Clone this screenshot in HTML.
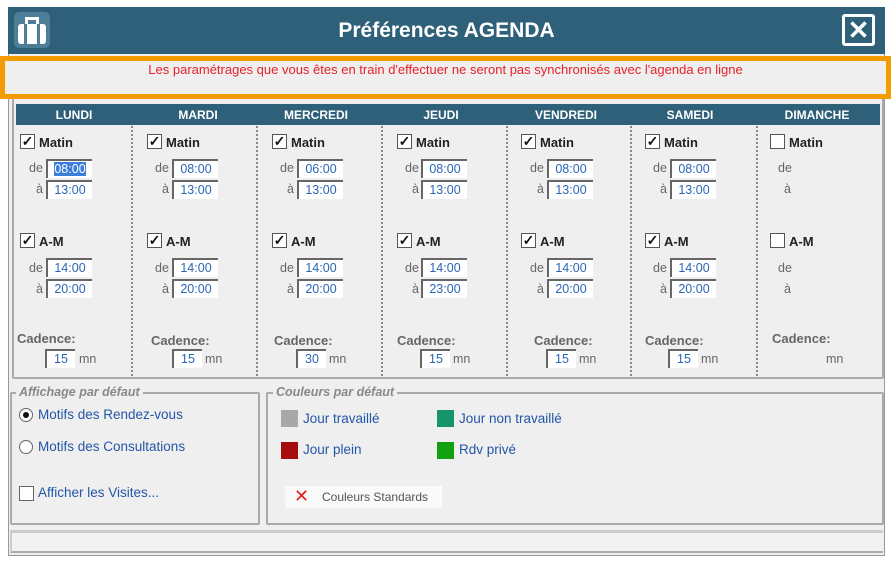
<!DOCTYPE html>
<html><head><meta charset="utf-8"><style>
*{box-sizing:border-box;margin:0;padding:0}
body{width:892px;height:561px;background:#fff;position:relative;overflow:hidden;font-family:"Liberation Sans",Arial,sans-serif;font-size:12px;color:#555}
.a{position:absolute}
.dlg{left:8px;top:7px;width:877px;height:549px;background:#efefef;border:1px solid #999}
.title{left:8px;top:7px;width:877px;height:47px;background:#2f6079}
.title span{position:absolute;left:0;right:0;top:12px;text-align:center;color:#fff;font-weight:bold;font-size:21px}
.box{border:2px solid #aaa;border-radius:2px}
.hdr{left:16px;top:104px;width:864px;height:21px;background:#2f6079}
.hdr span{position:absolute;top:4px;color:#fff;font-weight:bold;font-size:12px;width:116px;text-align:center}
.sep{top:126px;height:250px;border-left:2px dotted #888}
.cb{width:15px;height:15px;border:1px solid #555;background:#fff;font-size:14px;line-height:13px;text-align:center;color:#111;font-weight:bold}
.lb{font-weight:bold;color:#222;font-size:13px}
.in{width:46px;height:19px;background:#fff;border-top:2px solid #666;border-left:2px solid #666;color:#2b66b5;font-size:12.5px;text-align:center;line-height:17px}
.sm{color:#666;font-size:12.5px}
.cad{color:#666;font-weight:bold;font-size:13px}
.ci{width:30px}
.blue{color:#2456a8;font-size:13.5px}
.sw{width:17px;height:17px}
</style></head><body>
<div class="a dlg"></div>
<div class="a title"><span>Préférences AGENDA</span></div>
<div class="a" style="left:14px;top:12px;width:36px;height:36px;background:#4d7d97;border-radius:5px"></div>
<div class="a" style="left:18px;top:24px;width:28px;height:20px;background:#fff;border-radius:3px"></div>
<div class="a" style="left:25px;top:17px;width:14px;height:9px;border:3px solid #fff;border-bottom:none"></div>
<div class="a" style="left:24px;top:24px;width:3px;height:20px;background:#4d7d97"></div>
<div class="a" style="left:37px;top:24px;width:3px;height:20px;background:#4d7d97"></div>
<div class="a" style="left:842px;top:14px;width:33px;height:32px;background:#fff;border-radius:3px"></div>
<div class="a" style="left:845px;top:17px;width:27px;height:26px;background:#2f6079;color:#fff;font-size:26px;line-height:26px;text-align:center;font-weight:bold">✕</div>

<div class="a box" style="left:12px;top:92px;width:872px;height:287px"></div>
<div class="a" style="left:0;top:56px;width:891px;height:43px;border:5px solid #f39c00;background:#efefef"></div>
<div class="a" style="left:0;top:62px;width:891px;text-align:center;color:#e8202a;font-size:13px">Les paramétrages que vous êtes en train d'effectuer ne seront pas synchronisés avec l'agenda en ligne</div>

<div class="a hdr">
<span style="left:0">LUNDI</span><span style="left:124px">MARDI</span><span style="left:242px">MERCREDI</span><span style="left:367px">JEUDI</span><span style="left:492px">VENDREDI</span><span style="left:616px">SAMEDI</span><span style="left:743px">DIMANCHE</span></div>
<div class="a sep" style="left:131px"></div><div class="a sep" style="left:256px"></div><div class="a sep" style="left:381px"></div><div class="a sep" style="left:506px"></div><div class="a sep" style="left:630px"></div><div class="a sep" style="left:756px"></div>

<!-- LUNDI -->
<div class="a cb" style="left:20px;top:134px">✓</div><div class="a lb" style="left:39px;top:135px">Matin</div>
<div class="a sm" style="left:29px;top:161px">de</div><div class="a in" style="left:46px;top:159px"><span style="background:#3b7fd9;color:#fff">08:00</span></div>
<div class="a sm" style="left:36px;top:182px">à</div><div class="a in" style="left:46px;top:180px">13:00</div>
<div class="a cb" style="left:20px;top:233px">✓</div><div class="a lb" style="left:39px;top:234px">A-M</div>
<div class="a sm" style="left:29px;top:261px">de</div><div class="a in" style="left:46px;top:258px">14:00</div>
<div class="a sm" style="left:36px;top:282px">à</div><div class="a in" style="left:46px;top:279px">20:00</div>
<div class="a cad" style="left:17px;top:331px">Cadence:</div><div class="a in ci" style="left:45px;top:349px">15</div><div class="a sm" style="left:79px;top:352px">mn</div>
<!-- MARDI -->
<div class="a cb" style="left:147px;top:134px">✓</div><div class="a lb" style="left:166px;top:135px">Matin</div>
<div class="a sm" style="left:155px;top:161px">de</div><div class="a in" style="left:172px;top:159px">08:00</div>
<div class="a sm" style="left:162px;top:182px">à</div><div class="a in" style="left:172px;top:180px">13:00</div>
<div class="a cb" style="left:147px;top:233px">✓</div><div class="a lb" style="left:166px;top:234px">A-M</div>
<div class="a sm" style="left:155px;top:261px">de</div><div class="a in" style="left:172px;top:258px">14:00</div>
<div class="a sm" style="left:162px;top:282px">à</div><div class="a in" style="left:172px;top:279px">20:00</div>
<div class="a cad" style="left:151px;top:333px">Cadence:</div><div class="a in ci" style="left:172px;top:349px">15</div><div class="a sm" style="left:205px;top:352px">mn</div>
<!-- MERCREDI -->
<div class="a cb" style="left:272px;top:134px">✓</div><div class="a lb" style="left:291px;top:135px">Matin</div>
<div class="a sm" style="left:280px;top:161px">de</div><div class="a in" style="left:297px;top:159px">06:00</div>
<div class="a sm" style="left:287px;top:182px">à</div><div class="a in" style="left:297px;top:180px">13:00</div>
<div class="a cb" style="left:272px;top:233px">✓</div><div class="a lb" style="left:291px;top:234px">A-M</div>
<div class="a sm" style="left:280px;top:261px">de</div><div class="a in" style="left:297px;top:258px">14:00</div>
<div class="a sm" style="left:287px;top:282px">à</div><div class="a in" style="left:297px;top:279px">20:00</div>
<div class="a cad" style="left:274px;top:333px">Cadence:</div><div class="a in ci" style="left:296px;top:349px">30</div><div class="a sm" style="left:329px;top:352px">mn</div>
<!-- JEUDI -->
<div class="a cb" style="left:397px;top:134px">✓</div><div class="a lb" style="left:416px;top:135px">Matin</div>
<div class="a sm" style="left:405px;top:161px">de</div><div class="a in" style="left:421px;top:159px">08:00</div>
<div class="a sm" style="left:412px;top:182px">à</div><div class="a in" style="left:421px;top:180px">13:00</div>
<div class="a cb" style="left:397px;top:233px">✓</div><div class="a lb" style="left:416px;top:234px">A-M</div>
<div class="a sm" style="left:405px;top:261px">de</div><div class="a in" style="left:421px;top:258px">14:00</div>
<div class="a sm" style="left:412px;top:282px">à</div><div class="a in" style="left:421px;top:279px">23:00</div>
<div class="a cad" style="left:397px;top:333px">Cadence:</div><div class="a in ci" style="left:420px;top:349px">15</div><div class="a sm" style="left:453px;top:352px">mn</div>
<!-- VENDREDI -->
<div class="a cb" style="left:521px;top:134px">✓</div><div class="a lb" style="left:540px;top:135px">Matin</div>
<div class="a sm" style="left:530px;top:161px">de</div><div class="a in" style="left:547px;top:159px">08:00</div>
<div class="a sm" style="left:537px;top:182px">à</div><div class="a in" style="left:547px;top:180px">13:00</div>
<div class="a cb" style="left:521px;top:233px">✓</div><div class="a lb" style="left:540px;top:234px">A-M</div>
<div class="a sm" style="left:530px;top:261px">de</div><div class="a in" style="left:547px;top:258px">14:00</div>
<div class="a sm" style="left:537px;top:282px">à</div><div class="a in" style="left:547px;top:279px">20:00</div>
<div class="a cad" style="left:534px;top:333px">Cadence:</div><div class="a in ci" style="left:546px;top:349px">15</div><div class="a sm" style="left:579px;top:352px">mn</div>
<!-- SAMEDI -->
<div class="a cb" style="left:645px;top:134px">✓</div><div class="a lb" style="left:664px;top:135px">Matin</div>
<div class="a sm" style="left:653px;top:161px">de</div><div class="a in" style="left:670px;top:159px">08:00</div>
<div class="a sm" style="left:660px;top:182px">à</div><div class="a in" style="left:670px;top:180px">13:00</div>
<div class="a cb" style="left:645px;top:233px">✓</div><div class="a lb" style="left:664px;top:234px">A-M</div>
<div class="a sm" style="left:653px;top:261px">de</div><div class="a in" style="left:670px;top:258px">14:00</div>
<div class="a sm" style="left:660px;top:282px">à</div><div class="a in" style="left:670px;top:279px">20:00</div>
<div class="a cad" style="left:645px;top:333px">Cadence:</div><div class="a in ci" style="left:668px;top:349px">15</div><div class="a sm" style="left:701px;top:352px">mn</div>
<!-- DIMANCHE -->
<div class="a cb" style="left:770px;top:134px"></div><div class="a lb" style="left:789px;top:135px">Matin</div>
<div class="a sm" style="left:778px;top:161px">de</div>
<div class="a sm" style="left:784px;top:182px">à</div>
<div class="a cb" style="left:770px;top:233px"></div><div class="a lb" style="left:789px;top:234px">A-M</div>
<div class="a sm" style="left:778px;top:261px">de</div>
<div class="a sm" style="left:784px;top:282px">à</div>
<div class="a cad" style="left:772px;top:331px">Cadence:</div><div class="a sm" style="left:826px;top:352px">mn</div>

<!-- bottom -->
<div class="a box" style="left:10px;top:392px;width:250px;height:133px"></div>
<div class="a" style="left:16px;top:385px;padding:0 3px;background:#efefef;color:#888;font-style:italic;font-weight:bold;font-size:12.5px">Affichage par défaut</div>
<div class="a" style="left:19px;top:408px;width:14px;height:14px;border-radius:50%;border:1px solid #666;background:#fff"></div>
<div class="a" style="left:23px;top:412px;width:6px;height:6px;border-radius:50%;background:#111"></div>
<div class="a blue" style="left:38px;top:407px">Motifs des Rendez-vous</div>
<div class="a" style="left:19px;top:440px;width:14px;height:14px;border-radius:50%;border:1px solid #666;background:#fff"></div>
<div class="a blue" style="left:38px;top:439px">Motifs des Consultations</div>
<div class="a" style="left:19px;top:486px;width:15px;height:15px;border:1px solid #666;background:#fff"></div>
<div class="a blue" style="left:38px;top:485px">Afficher les Visites...</div>

<div class="a box" style="left:266px;top:392px;width:618px;height:133px"></div>
<div class="a" style="left:273px;top:385px;padding:0 3px;background:#efefef;color:#888;font-style:italic;font-weight:bold;font-size:12.5px">Couleurs par défaut</div>
<div class="a sw" style="left:281px;top:410px;background:#a8a8a8"></div><div class="a blue" style="left:303px;top:411px">Jour travaillé</div>
<div class="a sw" style="left:437px;top:410px;background:#17956a"></div><div class="a blue" style="left:459px;top:411px">Jour non travaillé</div>
<div class="a sw" style="left:281px;top:442px;background:#a50c0c"></div><div class="a blue" style="left:303px;top:442px">Jour plein</div>
<div class="a sw" style="left:437px;top:442px;background:#10a010"></div><div class="a blue" style="left:459px;top:442px">Rdv privé</div>
<div class="a" style="left:285px;top:486px;width:157px;height:22px;background:#fafafa"></div>
<div class="a" style="left:294px;top:486px;color:#e02020;font-size:18px;line-height:20px">✕</div>
<div class="a" style="left:322px;top:490px;color:#555;font-size:12px">Couleurs Standards</div>

<div class="a" style="left:10px;top:530px;width:873px;height:3px;background:#ccc"></div>
<div class="a" style="left:10px;top:533px;width:873px;height:20px;border-bottom:2px solid #aaa;border-left:2px solid #ccc;background:#f2f2f2"></div>
</body></html>
